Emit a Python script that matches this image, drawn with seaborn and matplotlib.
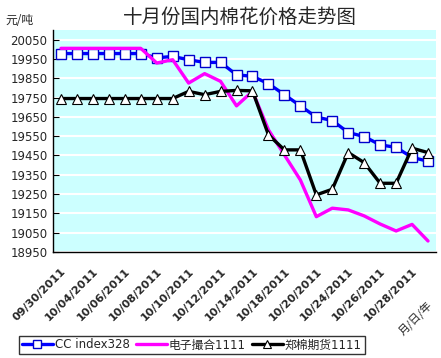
import matplotlib
matplotlib.use("Agg")
import matplotlib.pyplot as plt
import numpy as np
import pandas as pd
import seaborn as sns

dates = ["09/30/2011", "10/03/2011", "10/04/2011", "10/05/2011", "10/06/2011", "10/07/2011",
         "10/08/2011", "10/09/2011", "10/10/2011", "10/11/2011", "10/12/2011", "10/13/2011",
         "10/14/2011", "10/17/2011", "10/18/2011", "10/19/2011", "10/20/2011", "10/21/2011",
         "10/24/2011", "10/25/2011", "10/26/2011", "10/27/2011", "10/28/2011", "10/31/2011"]

cc_index = [19978, 19978, 19978, 19978, 19978, 19978, 19956, 19963, 19946, 19932, 19932, 19868,
            19860, 19822, 19765, 19707, 19649, 19631, 19569, 19548, 19505, 19492, 19440, 19420]
dianzi = [20005, 20005, 20005, 20005, 20005, 20005, 19929, 19946, 19825, 19874, 19834, 19707,
          19782, 19583, 19453, 19323, 19133, 19177, 19168, 19137, 19095, 19059, 19093, 19007]
zhengmian = [19745, 19745, 19745, 19745, 19745, 19745, 19745, 19745, 19782, 19765, 19782, 19787,
             19785, 19557, 19479, 19479, 19246, 19275, 19465, 19413, 19306, 19306, 19488, 19465]

series_names = ["CC index328", "电子撮合1111", "郑棉期货1111"]

df = pd.DataFrame({"i": np.arange(len(dates)), series_names[0]: cc_index,
                   series_names[1]: dianzi, series_names[2]: zhengmian})

sns.set_style("white")
plt.rcParams["font.family"] = ["DejaVu Sans", "Noto Sans CJK SC"]

fig = plt.figure(figsize=(4.41, 3.58), dpi=100)
ax = fig.add_axes([53 / 441, 1 - 252 / 358, 383 / 441, 222 / 358])
ax.set_facecolor("#ccffff")

sns.lineplot(data=df, x="i", y=series_names[0], ax=ax, color="#0000ff", lw=2.4,
             marker="s", markersize=6.5, markerfacecolor="white", markeredgecolor="#0000cc",
             markeredgewidth=1.0, label=series_names[0])
sns.lineplot(data=df, x="i", y=series_names[1], ax=ax, color="#ff00ff", lw=2.4,
             label=series_names[1])
sns.lineplot(data=df, x="i", y=series_names[2], ax=ax, color="black", lw=2.4,
             marker="^", markersize=7, markerfacecolor="white", markeredgecolor="black",
             markeredgewidth=0.8, label=series_names[2])

yticks = np.arange(18950, 20051, 100)
ax.set_ylim(18950, 20100)
ax.set_yticks(yticks)
ax.set_yticklabels([str(v) for v in yticks], fontsize=8.5)
ax.yaxis.grid(True, color="white", lw=1.5)
ax.set_axisbelow(True)

ax.set_xlim(-0.5, len(dates) - 0.5)
ax.set_xticks(np.arange(0, len(dates), 2))
ax.set_xticklabels(dates[::2], rotation=45, ha="right", rotation_mode="anchor",
                   fontsize=8, fontweight="bold")
ax.set_xticks(np.arange(-0.5, len(dates), 1), minor=True)
ax.tick_params(axis="x", which="major", length=0, pad=10)
ax.tick_params(axis="x", which="minor", direction="in", length=4, color="black")
ax.tick_params(axis="y", direction="in", length=4, left=True, color="black", pad=4)
ax.set_xlabel("")
ax.set_ylabel("")

for side in ["top", "right"]:
    ax.spines[side].set_visible(False)
for side in ["left", "bottom"]:
    ax.spines[side].set_color("black")
    ax.spines[side].set_linewidth(1.0)

fig.text(240 / 441, 1 - 17 / 358, "十月份国内棉花价格走势图", ha="center", va="center",
         fontsize=14, family=["Noto Sans CJK SC"], fontweight="light")
fig.text(5 / 441, 1 - 20 / 358, "元/吨", ha="left", va="center", fontsize=8.5,
         family=["Noto Sans CJK SC"])
fig.text(415 / 441, 1 - 318 / 358, "月/日/年", ha="center", va="center", fontsize=8,
         rotation=45, family=["Noto Sans CJK SC"])

leg = ax.legend(loc="center", bbox_to_anchor=(192 / 441, 1 - 345 / 358),
                bbox_transform=fig.transFigure, ncol=3, frameon=True, fancybox=False,
                edgecolor="black", handlelength=2.6, handletextpad=0.2, markerscale=0.8,
                columnspacing=0.5, borderpad=0.25,
                prop={"family": ["DejaVu Sans", "Noto Sans CJK SC"], "size": 8.5})
leg.get_frame().set_linewidth(1.0)

fig.savefig("out.png", dpi=100)
